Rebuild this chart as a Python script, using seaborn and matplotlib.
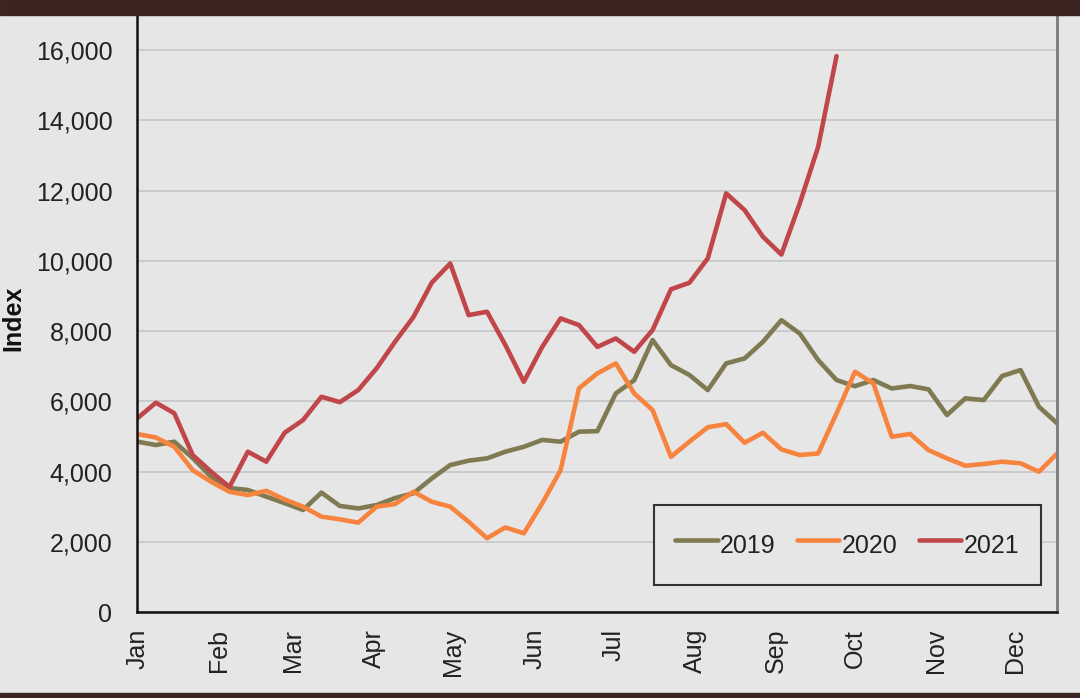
import numpy as np
import pandas as pd
import matplotlib
matplotlib.use("Agg")
import matplotlib.pyplot as plt
import seaborn as sns

# %% data (weekly index)
weeks = list(range(51))
months = ['Jan', 'Feb', 'Mar', 'Apr', 'May', 'Jun',
          'Jul', 'Aug', 'Sep', 'Oct', 'Nov', 'Dec']
month_start_day = [0, 31, 59, 90, 120, 151, 181, 212, 243, 273, 304, 334]

idx_2019 = [4850, 4755, 4850, 4385, 3850, 3530, 3475, 3285, 3100, 2905,
            3400, 3020, 2950, 3045, 3245, 3380, 3805, 4185, 4310, 4375,
            4565, 4705, 4900, 4850, 5135, 5150, 6225, 6600, 7745, 7030,
            6750, 6320, 7080, 7220, 7695, 8310, 7930, 7175, 6605, 6430,
            6605, 6365, 6435, 6340, 5610, 6085, 6035, 6720, 6890, 5845,
            5370]
idx_2020 = [5067, 4970, 4705, 4040, 3710, 3425, 3330, 3450, 3205, 3000,
            2715, 2640, 2545, 3000, 3075, 3425, 3140, 3000, 2570, 2100,
            2410, 2240, 3095, 4040, 6370, 6795, 7080, 6225, 5750, 4420,
            4850, 5260, 5350, 4820, 5105, 4630, 4470, 4515, 5655, 6840,
            6510, 4990, 5070, 4610, 4375, 4165, 4215, 4280, 4235, 3995,
            4515]
idx_2021 = [5520, 5960, 5660, 4470, 3995, 3560, 4565, 4280, 5105, 5466,
            6130, 5975, 6320, 6940, 7695, 8400, 9380, 9925, 8455, 8550,
            7600, 6555, 7550, 8360, 8170, 7550, 7790, 7410, 8030, 9190,
            9375, 10070, 11920, 11445, 10685, 10180, 11635, 13245, 15830]

years = ['2019', '2020', '2021']
colors = {'2019': '#7f7a52', '2020': '#f7843e', '2021': '#c0464a'}

# long format for seaborn
frames = []
for yr, vals in zip(years, [idx_2019, idx_2020, idx_2021]):
    frames.append(pd.DataFrame({'day': [7 * w for w in weeks[:len(vals)]],
                                'Index': vals, 'Year': yr}))
df = pd.concat(frames, ignore_index=True)

# %% plot
sns.set_style("white")
plt.rcParams['font.family'] = ['Liberation Sans', 'DejaVu Sans']

bg = '#e6e6e6'
fig = plt.figure(figsize=(10.8, 6.98), dpi=100, facecolor=bg)
ax = fig.add_axes([0.1273, 0.1232, 0.8517, 0.8553])
ax.set_facecolor(bg)

# dark bands top and bottom of the screenshot
fig.patches.append(plt.Rectangle((0, 0.9785), 1, 0.0215, transform=fig.transFigure,
                                 color='#3c2421', zorder=10))
fig.patches.append(plt.Rectangle((0, 0), 1, 0.0072, transform=fig.transFigure,
                                 color='#3c2421', zorder=10))

sns.lineplot(data=df, x='day', y='Index', hue='Year', palette=colors,
             linewidth=3.3, ax=ax, sort=False)

ax.set_xlim(0, 350)
ax.set_ylim(0, 17000)
ax.set_yticks(range(0, 16001, 2000))
ax.set_yticklabels([f'{v:,}' for v in range(0, 16001, 2000)], fontsize=18, color='#222222')
ax.set_xticks(month_start_day)
ax.set_xticklabels(months, rotation=90, fontsize=18, color='#222222')
ax.tick_params(axis='x', length=0, pad=12)
ax.tick_params(axis='y', length=6, width=1.5, pad=12, color='#222222')

ax.yaxis.grid(True, color='#c6c6c6', linewidth=1.2)
ax.set_axisbelow(True)

ax.set_xlabel('')
ax.set_ylabel('Index', fontsize=18, fontweight='bold', color='#111111')
ax.yaxis.set_label_coords(-0.122, 0.4925)

for side in ['left', 'bottom']:
    ax.spines[side].set_color('#111111')
    ax.spines[side].set_linewidth(1.8)
ax.spines['right'].set_color('#7a7a7a')
ax.spines['right'].set_linewidth(2)
ax.spines['top'].set_visible(False)

leg = ax.legend(loc='lower right', bbox_to_anchor=(0.982, 0.0457), ncol=3,
                fontsize=18, frameon=True, fancybox=False, handlelength=1.7,
                handleheight=1.9, handletextpad=0.1, columnspacing=0.85,
                borderpad=0.85, borderaxespad=0)
leg.get_frame().set_facecolor(bg)
leg.get_frame().set_edgecolor('#333333')
leg.get_frame().set_linewidth(1.5)
leg.get_frame().set_alpha(1)
for t in leg.get_texts():
    t.set_color('#222222')

fig.savefig('out.png', dpi=100, facecolor=bg)
